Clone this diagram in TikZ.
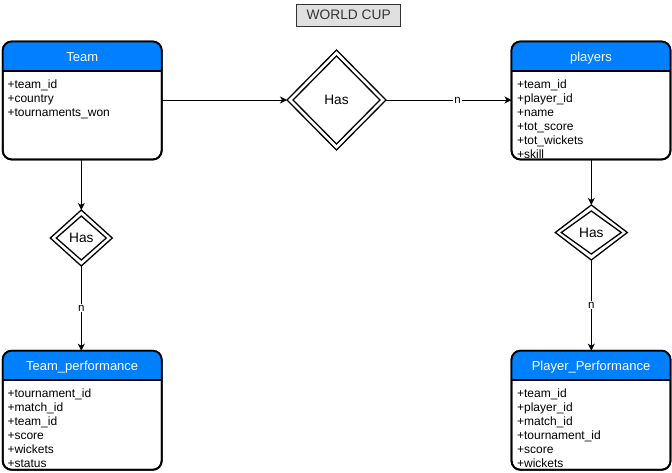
\documentclass[tikz,border=0pt]{standalone}
\usepackage{fontspec}
\setmainfont{Liberation Sans}
\usetikzlibrary{shapes.geometric,arrows.meta}
\definecolor{hdr}{RGB}{0,128,255}
\definecolor{ttlfill}{RGB}{224,224,224}
\definecolor{ttltext}{RGB}{51,51,51}

\tikzset{
  box/.style={draw=black, fill=white, line width=1.8pt, rounded corners=9pt,
    minimum width=159pt, inner sep=0pt, outer sep=0pt},
  hdrtext/.style={text=white, font=\fontsize{13}{15}\selectfont, inner sep=0pt, anchor=base},
  attr/.style={text=black, font=\fontsize{12}{14}\selectfont, inner sep=0pt, anchor=base west},
  dia/.style={diamond, draw=black, line width=1.3pt, inner sep=0pt, outer sep=0pt},
  hastext/.style={font=\fontsize{13.7}{15}\selectfont, inner sep=0pt, anchor=base},
  conn/.style={draw=black, line width=0.9pt, -{Stealth[length=7pt,width=7pt,inset=2pt]}},
  mult/.style={fill=white, inner sep=1pt, font=\fontsize{11.5}{12}\selectfont},
}

\newcommand{\drawentity}[7]{%
  % #1 name, #2 center x, #3 top y, #4 bottom y, #5 title, #6 attr x-offset, #7 attributes
  \node[box, minimum height={#4-#3}] (#1) at (#2, {(#3+#4)/2}) {};
  \begin{scope}
    \clip[rounded corners=9pt] (#1.north west) rectangle (#1.south east);
    \fill[hdr] (#1.north west) rectangle ([yshift=-29.5pt]#1.north east);
  \end{scope}
  \draw[line width=1.8pt] ([yshift=-29.5pt]#1.north west) -- ([yshift=-29.5pt]#1.north east);
  \draw[line width=1.8pt, rounded corners=9pt] (#1.north west) rectangle (#1.south east);
  \node[hdrtext] (#1-title) at ([yshift=-20pt]#1.north) {#5};
  \foreach \myattr [count=\i] in {#7}
    \node[attr] (#1-a\i) at ([xshift=#6, yshift={-(46.6+14*(\i-1))*1pt}]#1.north west) {\myattr};
}

\begin{document}
\begin{tikzpicture}[x=1pt,y=-1pt]
\useasboundingbox (0,0) rectangle (672,472);

% title
\node[draw=ttltext, fill=ttlfill, line width=0.8pt, minimum width=104pt, minimum height=22pt,
      inner sep=0pt, text=ttltext, font=\fontsize{13.75}{15}\selectfont] (title) at (348.7,15) {WORLD CUP};

% entities
\drawentity{team}{82.2}{41.5}{159.5}{Team}{4.6pt}{+team\_id,+country,+tournaments\_won}
\drawentity{players}{591}{41.5}{159.5}{players}{5.4pt}{+team\_id,+player\_id,+name,+tot\_score,+tot\_wickets,+skill}
\drawentity{teamperf}{82.2}{350.7}{469.8}{Team\_performance}{4.6pt}{+tournament\_id,+match\_id,+team\_id,+score,+wickets,+status}
\drawentity{playerperf}{591}{350.7}{469.8}{Player\_Performance}{5.4pt}{+team\_id,+player\_id,+match\_id,+tournament\_id,+score,+wickets}

% relationship diamonds
\node[dia, minimum width=99pt, minimum height=100pt] (has1) at (336.5,100) {};
\node[dia, minimum width=87pt, minimum height=88pt] (has1in) at (has1) {};
\node[hastext] (has1t) at (336.5,104.9) {Has};

\node[dia, minimum width=62pt, minimum height=56pt] (has2) at (81.3,238) {};
\node[dia, minimum width=50pt, minimum height=44pt] (has2in) at (has2) {};
\node[hastext] (has2t) at (81.3,242.5) {Has};

\node[dia, minimum width=72pt, minimum height=55pt] (has3) at (591.3,232.5) {};
\node[dia, minimum width=60pt, minimum height=43pt] (has3in) at (has3) {};
\node[hastext] (has3t) at (591.3,237.4) {Has};

% connectors
\draw[conn] (has1.west -| team.east) -- (has1.west);
\draw[conn] (has1.east) -- node[mult, pos=0.57] (n1) {n} (has1.east -| players.west);
\draw[conn] (team.south -| has2.north) -- (has2.north);
\draw[conn] (has2.south) -- node[mult, pos=0.5] (n2) {n} (has2.south |- teamperf.north);
\draw[conn] (players.south -| has3.north) -- (has3.north);
\draw[conn] (has3.south) -- node[mult, pos=0.5] (n3) {n} (has3.south |- playerperf.north);
\end{tikzpicture}
\end{document}
